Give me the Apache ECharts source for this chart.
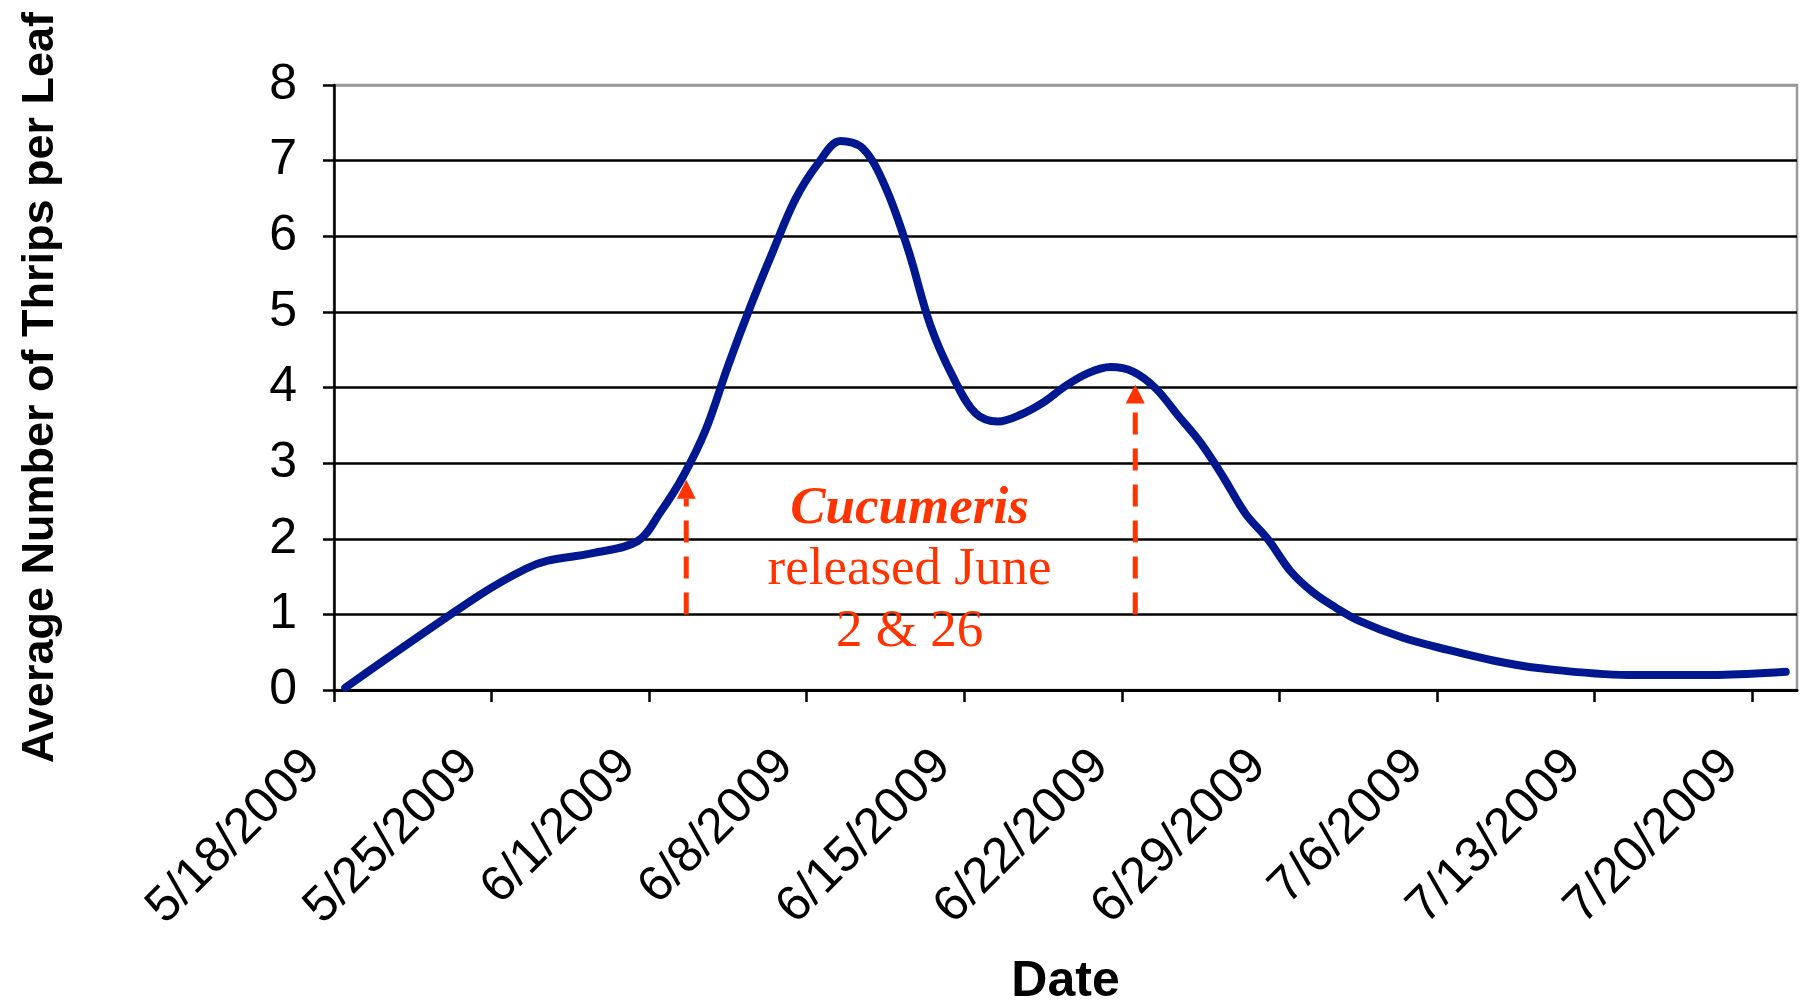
<!DOCTYPE html>
<html><head><meta charset="utf-8">
<script src="https://cdn.jsdelivr.net/npm/echarts@6/dist/echarts.min.js"></script>
<style>html,body{margin:0;padding:0;background:#fff}#c{width:1812px;height:1003px}</style>
</head><body><div id="c"></div>
<script>
// ---- data ----
const startDate = '2009-05-18';
const dates = ['2009-05-18','2009-05-24','2009-05-26','2009-05-27','2009-05-29','2009-05-31',
  '2009-06-01','2009-06-02','2009-06-03','2009-06-04','2009-06-05','2009-06-06','2009-06-07',
  '2009-06-08','2009-06-09','2009-06-10','2009-06-11','2009-06-12','2009-06-13','2009-06-14',
  '2009-06-15','2009-06-16','2009-06-17','2009-06-18','2009-06-19','2009-06-20','2009-06-21',
  '2009-06-22','2009-06-23','2009-06-24','2009-06-25','2009-06-26','2009-06-27','2009-06-28',
  '2009-06-29','2009-06-30','2009-07-01','2009-07-02','2009-07-04','2009-07-06','2009-07-08',
  '2009-07-10','2009-07-14','2009-07-18','2009-07-21'];
const thrips = [0.03,1.26,1.60,1.71,1.81,1.97,
  2.35,2.82,3.43,4.28,5.07,5.80,6.49,
  6.96,7.26,7.16,6.65,5.83,4.82,4.14,
  3.66,3.55,3.64,3.80,4.02,4.19,4.27,
  4.21,3.99,3.63,3.27,2.82,2.33,1.99,
  1.57,1.29,1.09,0.92,0.69,0.53,0.39,
  0.29,0.20,0.20,0.24];
const tickLabels = ['5/18/2009','5/25/2009','6/1/2009','6/8/2009','6/15/2009','6/22/2009',
  '6/29/2009','7/6/2009','7/13/2009','7/20/2009'];
const axisDays = 65;             // 5/18 .. 7/22
const yTicks = [0,1,2,3,4,5,6,7,8];
// release-arrow annotation (as drawn in the figure)
const arrowDay = [15.65, 35.6];
const arrowTip = [2.78, 4.04];
const arrowBase = 1;
const noteLines = ['Cucumeris', 'released June', '2 & 26'];
const noteDay = 25.57;
const noteLevel = [2.39, 1.59, 0.77];

// ---- helpers ----
function dayIndex(s){
  const a = s.split('-').map(Number), b = startDate.split('-').map(Number);
  return Math.round((Date.UTC(a[0],a[1]-1,a[2]) - Date.UTC(b[0],b[1]-1,b[2]))/86400000);
}
const tickVals = tickLabels.map((_, i) => i*7);
const lineData = dates.map((d, i) => [dayIndex(d) + 0.5, thrips[i]]);
const RED = '#ff3300';
const sans = 'Liberation Sans, Arial, sans-serif';
const serif = 'Liberation Serif, Times New Roman, serif';

const chart = echarts.init(document.getElementById('c'), null, {renderer:'canvas'});
chart.setOption({
  animation: false,
  backgroundColor: '#fff',
  grid: {left: 334, right: 15, top: 85, bottom: 313, show: true, borderColor: '#999', borderWidth: 2.5,
         backgroundColor: 'transparent', containLabel: false, outerBoundsMode: 'none'},
  xAxis: {
    type: 'value', min: 0, max: axisDays, interval: 7,
    axisLine: {show: true, onZero: false, lineStyle: {color: '#000', width: 3}},
    axisTick: {show: true, length: 12, customValues: tickVals, lineStyle: {color: '#000', width: 2.5}},
    axisLabel: {customValues: tickVals, rotate: 45, margin: 47, padding: [0, 30, 0, 0],
      fontSize: 50, fontFamily: sans, color: '#000',
      formatter: v => tickLabels[Math.round(v/7)] || ''},
    splitLine: {show: false},
    name: 'Date', nameLocation: 'middle', nameGap: 267, nameMoveOverlap: false,
    nameTextStyle: {fontSize: 50, fontWeight: 'bold', fontFamily: sans, color: '#000'}
  },
  yAxis: {
    type: 'value', min: 0, max: 8, interval: 1,
    axisLine: {show: true, lineStyle: {color: '#000', width: 2.5}},
    axisTick: {show: true, length: 11, lineStyle: {color: '#000', width: 2.5}},
    axisLabel: {margin: 37, fontSize: 50, fontFamily: sans, color: '#000'},
    splitLine: {show: true, lineStyle: {color: yTicks.map(v => v === 8 ? '#999' : '#000'), width: 2.5}},
    name: 'Average Number of Thrips per Leaf', nameLocation: 'middle', nameRotate: 90, nameGap: 271,
    nameMoveOverlap: false,
    nameTextStyle: {fontSize: 45, fontWeight: 'bold', fontFamily: sans, color: '#000'}
  },
  series: [
    {
      type: 'line', data: lineData, smooth: 0.35, symbol: 'none', z: 3,
      lineStyle: {color: '#00188f', width: 8, cap: 'round', join: 'round'}
    },
    {
      type: 'custom', z: 4, silent: true,
      data: arrowDay.map((d, i) => [d, arrowTip[i]]),
      renderItem: (params, api) => {
        const x = api.value(0), tip = api.value(1);
        const pb = api.coord([x, arrowBase]), pt = api.coord([x, tip]);
        const hh = 19, hw = 19;
        return {type: 'group', children: [
          {type: 'line', shape: {x1: pb[0], y1: pb[1], x2: pt[0], y2: pt[1] + hh},
           style: {stroke: RED, lineWidth: 5, lineDash: [22, 14]}},
          {type: 'polygon', shape: {points: [[pt[0], pt[1]], [pt[0] - hw/2, pt[1] + hh], [pt[0] + hw/2, pt[1] + hh]]},
           style: {fill: RED}}
        ]};
      }
    },
    {
      type: 'custom', z: 5, silent: true,
      data: noteLines.map((t, i) => [noteDay, noteLevel[i]]),
      renderItem: (params, api) => {
        const i = params.dataIndex;
        const p = api.coord([api.value(0), api.value(1)]);
        return {type: 'text', x: p[0], y: p[1], style: {
          text: noteLines[i], fill: RED, fontSize: 53, fontFamily: serif,
          fontWeight: i === 0 ? 'bold' : 'normal', fontStyle: i === 0 ? 'italic' : 'normal',
          align: 'center', verticalAlign: 'middle'}};
      }
    }
  ]
});
</script></body></html>
